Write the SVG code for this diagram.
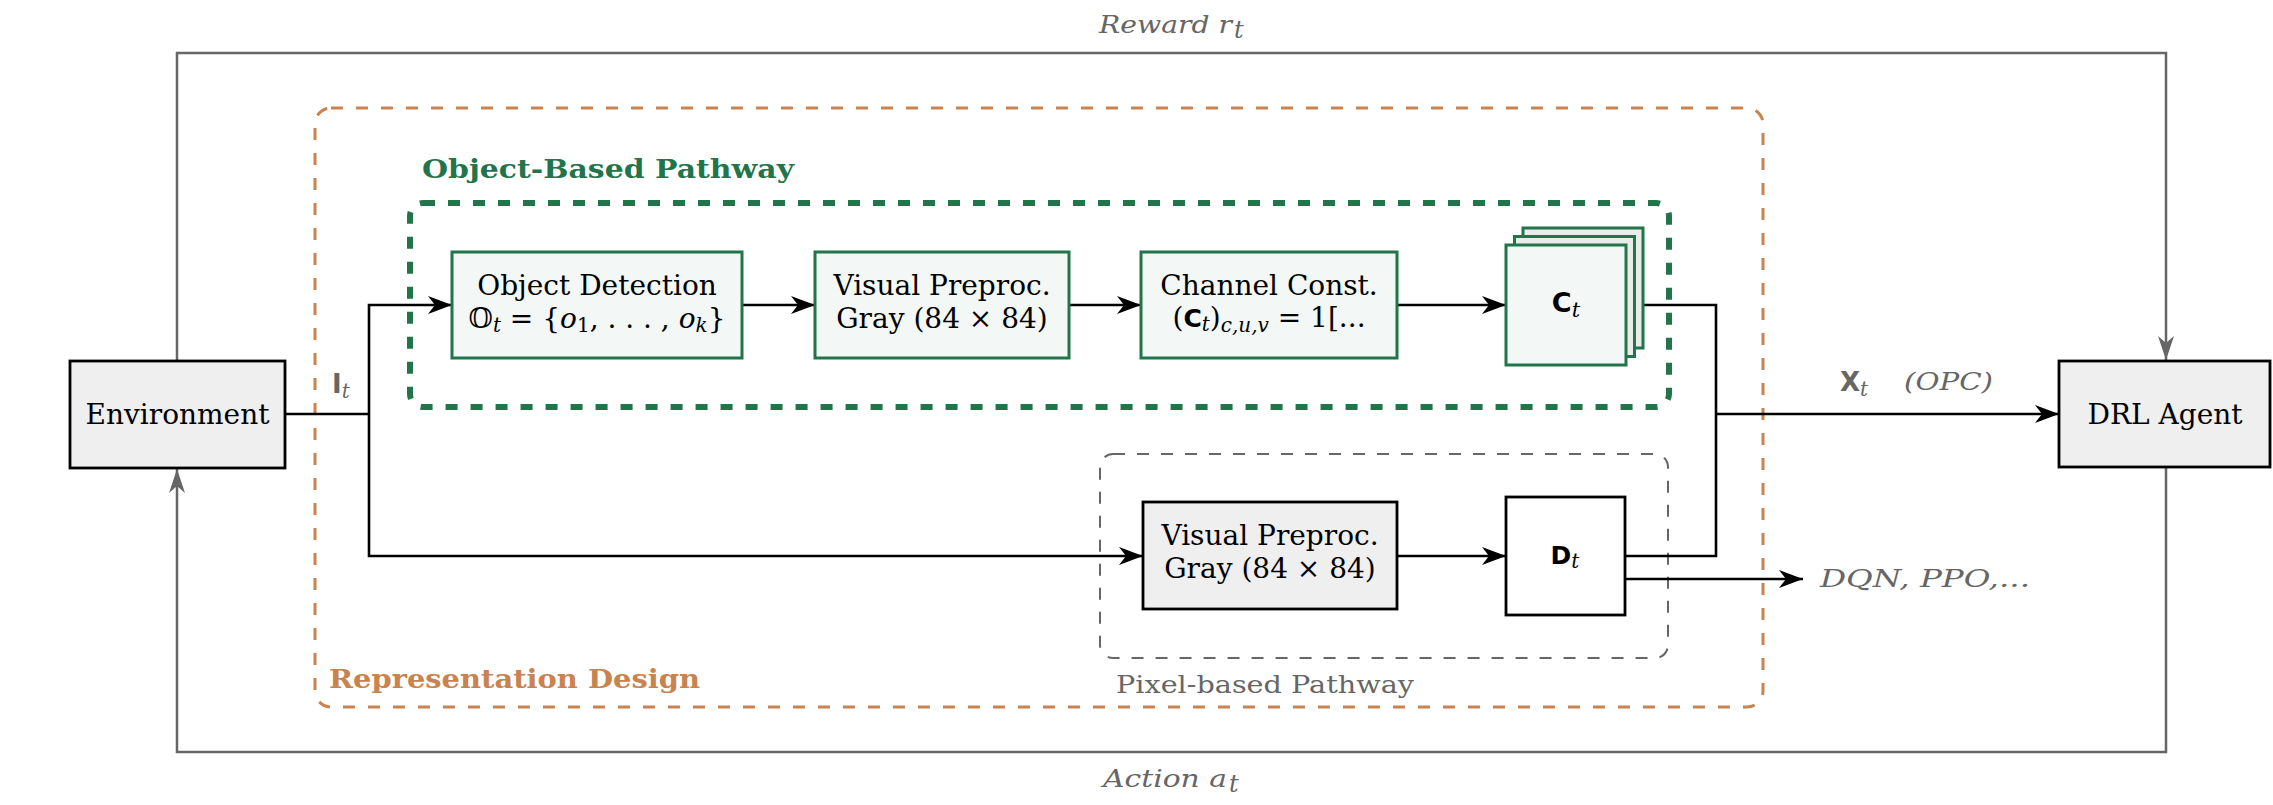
<svg xmlns="http://www.w3.org/2000/svg" width="2273" height="805" viewBox="0 0 2273 805">
<style>
.bg{fill:#ffffff}
.serif{font-family:"DejaVu Serif",serif}
.sans{font-family:"DejaVu Sans",sans-serif}
.box{font-family:"DejaVu Serif",serif;font-size:28px;fill:#000;text-anchor:middle}
.lab{font-family:"DejaVu Serif",serif;font-size:24px;fill:#666}
.it{font-style:italic}
.sb{font-family:"DejaVu Sans",sans-serif;font-weight:bold}
.gbox{fill:#f3f7f5;stroke:#22744a;stroke-width:3}
.gback{fill:#ebebeb;stroke:#22744a;stroke-width:3}
.kbox{fill:#efefef;stroke:#000;stroke-width:2.8}
.wbox{fill:#ffffff;stroke:#000;stroke-width:2.8}
.wire{fill:none;stroke:#000;stroke-width:2.6}
.gwire{fill:none;stroke:#666;stroke-width:2.5}
</style>
<defs>
<marker id="ak" markerUnits="userSpaceOnUse" viewBox="0 0 24 18" refX="24" refY="9" markerWidth="24" markerHeight="18" orient="auto">
<path d="M0,0 L24,9 L0,18 L7,9 Z" fill="#000"/>
</marker>
<marker id="ag" markerUnits="userSpaceOnUse" viewBox="0 0 24 18" refX="24" refY="9" markerWidth="24" markerHeight="18" orient="auto">
<path d="M0,1 L24,9 L0,17 L7,9 Z" fill="#666"/>
</marker>
</defs>
<rect class="bg" x="0" y="0" width="2273" height="805"/>

<g id="representation-design">
<rect x="315" y="108" width="1448" height="599" rx="16" fill="none" stroke="#c9834f" stroke-width="3" stroke-dasharray="12 13"/>
<text x="329" y="688" class="serif" font-weight="bold" font-size="26" fill="#c9834f" textLength="371" lengthAdjust="spacingAndGlyphs">Representation Design</text>
</g>

<g id="object-pathway">
<rect x="410" y="203" width="1259" height="204" rx="13" fill="none" stroke="#22744a" stroke-width="6" stroke-dasharray="12 13"/>
<text x="422" y="178" class="serif" font-weight="bold" font-size="26" fill="#22744a" textLength="372" lengthAdjust="spacingAndGlyphs">Object-Based Pathway</text>
</g>

<g id="pixel-pathway">
<rect x="1100" y="454" width="568" height="204" rx="13" fill="none" stroke="#666" stroke-width="2" stroke-dasharray="12 12"/>
<text x="1116" y="693" class="serif" font-size="25" fill="#666" textLength="298" lengthAdjust="spacingAndGlyphs">Pixel-based Pathway</text>
</g>

<g id="connectors">
<path class="gwire" d="M177,361 V53 H2166 V360" marker-end="url(#ag)"/>
<path class="gwire" d="M2166,467 V752 H177 V469" marker-end="url(#ag)"/>
<path class="wire" d="M285,414 H369"/>
<path class="wire" d="M369,414 V305 H452" marker-end="url(#ak)"/>
<path class="wire" d="M369,414 V556 H1143" marker-end="url(#ak)"/>
<path class="wire" d="M742,305 H815" marker-end="url(#ak)"/>
<path class="wire" d="M1069,305 H1141" marker-end="url(#ak)"/>
<path class="wire" d="M1397,305 H1506" marker-end="url(#ak)"/>
<path class="wire" d="M1397,556 H1506" marker-end="url(#ak)"/>
<path class="wire" d="M1626,305 H1716 V556 H1625"/>
<path class="wire" d="M1716,414 H2059" marker-end="url(#ak)"/>
<path class="wire" d="M1625,579 H1803" marker-end="url(#ak)"/>
</g>

<g id="labels">
<text x="1099" y="33" class="lab it" font-size="26" textLength="133" lengthAdjust="spacingAndGlyphs">Reward r</text>
<text x="1234" y="38" class="lab it" font-size="19">t</text>
<text x="1103" y="787" class="lab it" font-size="26" textLength="124" lengthAdjust="spacingAndGlyphs">Action a</text>
<text x="1229" y="792" class="lab it" font-size="19">t</text>
<text x="332" y="393" class="lab"><tspan class="sb" font-size="26">I</tspan><tspan class="it" font-size="20" dy="5">t</tspan></text>
<text x="1840" y="391" class="lab"><tspan class="sb" font-size="26">X</tspan><tspan class="it" font-size="20" dy="5">t</tspan></text>
<text x="1904" y="390" class="lab it" font-size="26" textLength="89" lengthAdjust="spacingAndGlyphs">(OPC)</text>
<text x="1820" y="587" class="lab it" font-size="24" textLength="210" lengthAdjust="spacingAndGlyphs">DQN, PPO,...</text>
</g>

<g id="environment">
<rect class="kbox" x="70" y="361" width="215" height="107"/>
<text class="box" x="177.5" y="424">Environment</text>
</g>

<g id="drl-agent">
<rect class="kbox" x="2059" y="361" width="211" height="106"/>
<text class="box" x="2165" y="424">DRL Agent</text>
</g>

<g id="object-detection">
<rect class="gbox" x="452" y="252" width="290" height="106"/>
<text class="box" x="597" y="295">Object Detection</text>
<text class="box" x="597" y="328">𝕆<tspan class="it" font-size="20" dy="4">t</tspan><tspan dy="-4"> = {</tspan><tspan class="it">o</tspan><tspan font-size="20" dy="4">1</tspan><tspan dy="-4">, . . . , </tspan><tspan class="it">o</tspan><tspan class="it" font-size="20" dy="4">k</tspan><tspan dy="-4">}</tspan></text>
</g>

<g id="visual-preproc-object">
<rect class="gbox" x="815" y="252" width="254" height="106"/>
<text class="box" x="942" y="295">Visual Preproc.</text>
<text class="box" x="942" y="328">Gray (84 × 84)</text>
</g>

<g id="channel-const">
<rect class="gbox" x="1141" y="252" width="256" height="106"/>
<text class="box" x="1269" y="295">Channel Const.</text>
<text class="box" x="1269" y="327">(<tspan class="sb" font-size="25">C</tspan><tspan class="it" font-size="20" dy="4">t</tspan><tspan dy="-4">)</tspan><tspan class="it" font-size="20" dy="5">c,u,v</tspan><tspan dy="-5"> = 1[...</tspan></text>
</g>

<g id="ct-stack">
<rect class="gback" x="1523" y="228" width="120" height="120"/>
<rect class="gback" x="1514.5" y="236.5" width="120" height="120"/>
<rect class="gbox" x="1506" y="245" width="120" height="120"/>
<text x="1566" y="312" text-anchor="middle"><tspan class="sb" font-size="27">C</tspan><tspan class="serif it" font-size="21" dy="5">t</tspan></text>
</g>

<g id="visual-preproc-pixel">
<rect class="kbox" x="1143" y="502" width="254" height="107"/>
<text class="box" x="1270" y="545">Visual Preproc.</text>
<text class="box" x="1270" y="578">Gray (84 × 84)</text>
</g>

<g id="dt">
<rect class="wbox" x="1506" y="497" width="119" height="118"/>
<text x="1565" y="564" text-anchor="middle"><tspan class="sb" font-size="25">D</tspan><tspan class="serif it" font-size="20" dy="4">t</tspan></text>
</g>
</svg>
